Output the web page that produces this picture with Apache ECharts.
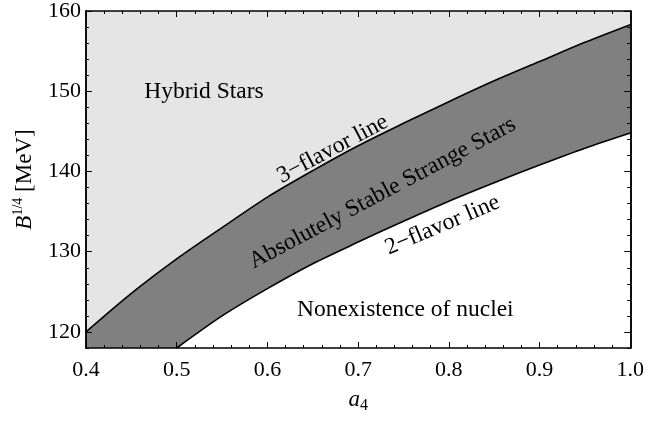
<!DOCTYPE html>
<html>
<head>
<meta charset="utf-8">
<script src="https://cdn.jsdelivr.net/npm/echarts@6/dist/echarts.min.js"></script>
<style>
  html, body { margin: 0; padding: 0; background: #ffffff; }
  #chart { width: 647px; height: 422px; }
</style>
</head>
<body>
<div id="chart"></div>
<script>
// Stability window for strange quark matter in the (a4, B^1/4) plane
const a4Values       = [0.40, 0.45, 0.50, 0.55, 0.60, 0.65, 0.70, 0.75, 0.80, 0.85, 0.90, 0.95, 1.00];
const threeFlavorB   = [120.0, 124.8, 129.1, 133.0, 136.8, 140.1, 143.2, 146.0, 148.7, 151.3, 153.7, 156.1, 158.3];
const a4TwoFlavor    = [0.50, 0.55, 0.60, 0.65, 0.70, 0.75, 0.80, 0.85, 0.90, 0.95, 1.00];
const twoFlavorB     = [118.0, 122.0, 125.4, 128.5, 131.2, 133.8, 136.3, 138.6, 140.8, 142.9, 144.8];
const yMajorTicks    = [120, 130, 140, 150, 160];
const xTickLabels    = ['0.4', '0.5', '0.6', '0.7', '0.8', '0.9', '1.0'];

const SERIF = '"Liberation Serif", "DejaVu Serif", serif';
const threeFlavor = a4Values.map((a, i) => [a, threeFlavorB[i]]);
const twoFlavor = a4TwoFlavor.map((a, i) => [a, twoFlavorB[i]]);

const chart = echarts.init(document.getElementById('chart'), null, { renderer: 'canvas' });

const frameLine = { show: true, onZero: false, lineStyle: { color: '#000', width: 1.5 } };
const xMin = 0.4, xMax = 1.0, yMin = 118, yMax = 160;

function xAxisDef(pos, labels) {
  return {
    type: 'value', position: pos, min: xMin, max: xMax, interval: 0.1, z: 10,
    axisLine: frameLine,
    axisTick: { show: true, inside: true, length: 6, lineStyle: { color: '#000', width: 1 } },
    minorTick: { show: true, splitNumber: 5, length: 3, lineStyle: { color: '#000', width: 1 } },
    splitLine: { show: false },
    axisLabel: labels ? {
      show: true, margin: 11, color: '#000', fontFamily: SERIF, fontSize: 22,
      formatter: v => xTickLabels[Math.round((v - xMin) * 10)]
    } : { show: false }
  };
}
function yMajorDef(pos, labels) {
  return {
    type: 'value', position: pos, min: yMin, max: yMax, z: 10,
    axisLine: frameLine,
    axisTick: { show: true, inside: true, length: 6, customValues: yMajorTicks, lineStyle: { color: '#000', width: 1 } },
    splitLine: { show: false },
    axisLabel: labels ? {
      show: true, margin: 5, color: '#000', fontFamily: SERIF, fontSize: 22, customValues: yMajorTicks
    } : { show: false }
  };
}
function yMinorDef(pos) {
  return {
    type: 'value', position: pos, min: yMin, max: yMax, interval: 2, z: 10,
    axisLine: frameLine,
    axisTick: { show: true, inside: true, length: 3, lineStyle: { color: '#000', width: 1 } },
    splitLine: { show: false },
    axisLabel: { show: false }
  };
}

chart.setOption({
  animation: false,
  backgroundColor: '#ffffff',
  grid: {
    left: 86, right: 12, top: 10.5, bottom: 74,
    show: true, backgroundColor: '#e5e5e5', borderWidth: 0
  },
  xAxis: [xAxisDef('bottom', true), xAxisDef('top', false)],
  yAxis: [yMajorDef('left', true), yMajorDef('right', false), yMinorDef('left'), yMinorDef('right')],
  series: [
    {
      name: '3-flavor line', type: 'line', data: threeFlavor, smooth: 0.3,
      showSymbol: false, symbol: 'none', xAxisIndex: 0, yAxisIndex: 0,
      lineStyle: { color: '#000', width: 1.6 },
      areaStyle: { color: '#808080', opacity: 1, origin: 'start' },
      z: 2
    },
    {
      name: '2-flavor line', type: 'line', data: twoFlavor, smooth: 0.3,
      showSymbol: false, symbol: 'none', xAxisIndex: 0, yAxisIndex: 0,
      lineStyle: { color: '#000', width: 1.6 },
      areaStyle: { color: '#ffffff', opacity: 1, origin: 'start' },
      z: 3
    }
  ]
});

// Region names and line labels, anchored in data coordinates
const toPx = (a, b) => chart.convertToPixel({ gridIndex: 0 }, [a, b]);
const deg = d => d * Math.PI / 180;
function note(text, a, b, angle) {
  const p = toPx(a, b);
  return {
    type: 'text', x: p[0], y: p[1], rotation: deg(angle || 0), z: 20,
    style: {
      text: text, fill: '#000', font: '23.5px ' + SERIF,
      align: 'center', verticalAlign: 'middle'
    }
  };
}

const gridRect = chart.getModel().getComponent('grid', 0).coordinateSystem.getRect();
chart.setOption({
  graphic: [
    note('Hybrid Stars', 0.53, 149.9, 0),
    note('Nonexistence of nuclei', 0.752, 122.7, 0),
    note('3\u2212flavor line', 0.672, 142.8, 28),
    note('Absolutely Stable Strange Stars', 0.727, 137.3, 28),
    note('2\u2212flavor line', 0.793, 133.3, 23),
    {
      type: 'text', x: 24, y: gridRect.y + gridRect.height / 2, rotation: deg(90), z: 20,
      style: {
        text: '{i|B}{s|1/4}{n| [MeV]}', align: 'center', verticalAlign: 'middle',
        rich: {
          i: { font: 'italic 23px ' + SERIF, fill: '#000', verticalAlign: 'bottom', lineHeight: 25 },
          s: { font: '14px ' + SERIF, fill: '#000', verticalAlign: 'top', lineHeight: 25 },
          n: { font: '23px ' + SERIF, fill: '#000', verticalAlign: 'bottom', lineHeight: 25 }
        }
      }
    },
    {
      type: 'text', x: gridRect.x + gridRect.width / 2, y: 401, z: 20,
      style: {
        text: '{i|a}{s|4}', align: 'center', verticalAlign: 'middle',
        rich: {
          i: { font: 'italic 23px ' + SERIF, fill: '#000', verticalAlign: 'top', lineHeight: 26 },
          s: { font: '16px ' + SERIF, fill: '#000', verticalAlign: 'bottom', lineHeight: 26 }
        }
      }
    }
  ]
});
</script>
</body>
</html>
